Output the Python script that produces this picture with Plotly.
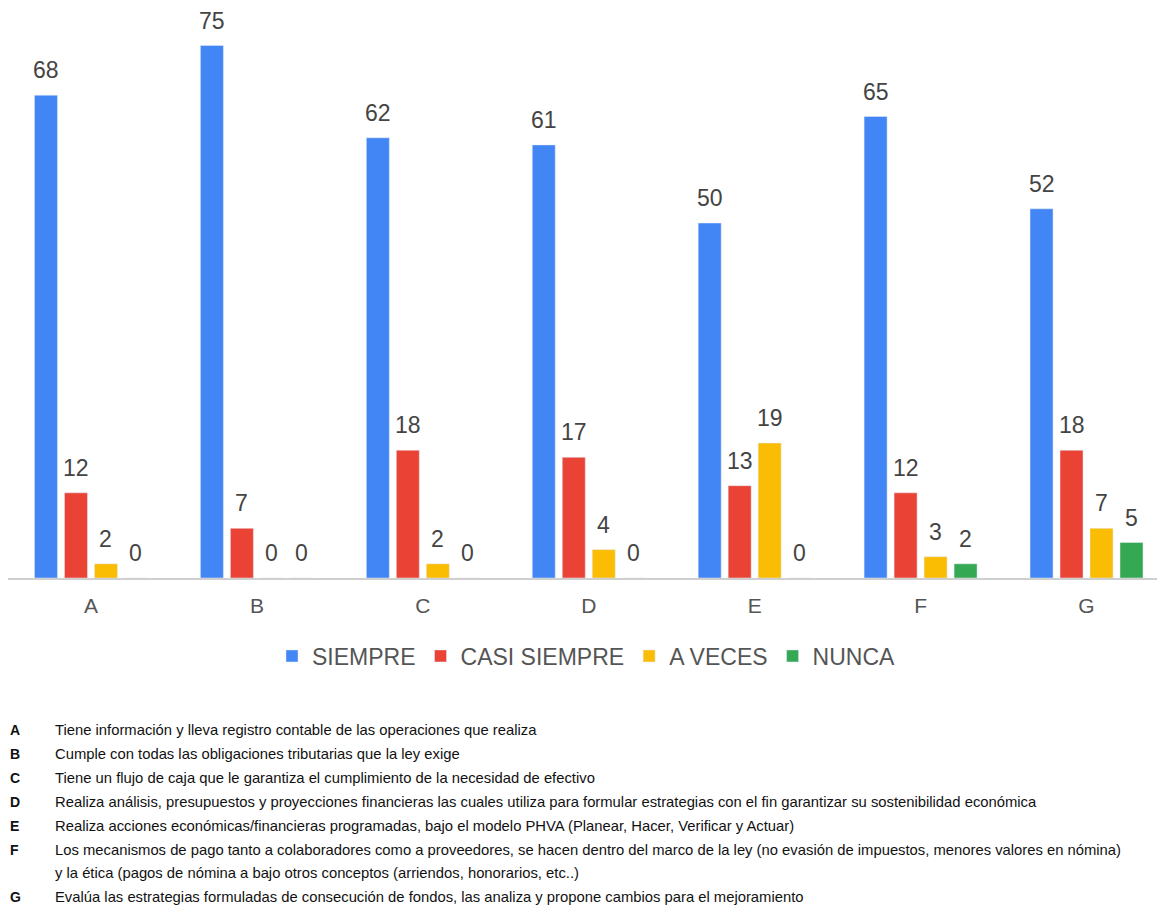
import plotly.graph_objects as go

categories = ["A", "B", "C", "D", "E", "F", "G"]
siempre = [68, 75, 62, 61, 50, 65, 52]
casi_siempre = [12, 7, 18, 17, 13, 12, 18]
a_veces = [2, 0, 2, 4, 19, 3, 7]
nunca = [0, 0, 0, 0, 0, 2, 5]

series_names = ["SIEMPRE", "CASI SIEMPRE", "A VECES", "NUNCA"]
series_values = [siempre, casi_siempre, a_veces, nunca]
colors = ["#4285F4", "#EA4335", "#FBBC04", "#34A853"]

notes_letters = ["A", "B", "C", "D", "E", "F", "", "G"]
notes_text = [
    "Tiene información y lleva registro contable de las operaciones que realiza",
    "Cumple con todas las obligaciones tributarias que la ley exige",
    "Tiene un flujo de caja que le garantiza el cumplimiento de la necesidad de efectivo",
    "Realiza análisis, presupuestos y proyecciones financieras las cuales utiliza para formular estrategias con el fin garantizar su sostenibilidad económica",
    "Realiza acciones económicas/financieras programadas, bajo el modelo PHVA (Planear, Hacer, Verificar y Actuar)",
    "Los mecanismos de pago tanto a colaboradores como a proveedores, se hacen dentro del marco de la ley (no evasión de impuestos, menores valores en nómina)",
    "y la ética (pagos de nómina a bajo otros conceptos (arriendos, honorarios, etc..)",
    "Evalúa las estrategias formuladas de consecución de fondos, las analiza y propone cambios para el mejoramiento",
]

# page body has an 8px margin, so the figure starts at (8, 8)
W, H = 1157, 898
ml, mr, mt, mb = 0, 0, 2, 328
plot_h = H - mt - mb
plot_w = W - ml - mr

fig = go.Figure()
annotations = []
n_series = len(series_names)
for i, (name, vals, col) in enumerate(zip(series_names, series_values, colors)):
    fig.add_trace(go.Bar(
        x=categories, y=vals, name=name, marker_color=col,
        cliponaxis=False,
    ))
    for cat, v in zip(categories, vals):
        annotations.append(dict(
            x=cat, y=v, xref="x", yref="y", text=str(v), showarrow=False,
            xshift=(i - (n_series - 1) / 2) * 30, yshift=25, yanchor="middle",
            font=dict(size=23, color="#444444", family="Arial, Liberation Sans"),
        ))

y0 = 730 - 8
for i, (letter, txt) in enumerate(zip(notes_letters, notes_text)):
    ypix = y0 + i * 23.9
    yp = (H - mb - ypix) / plot_h
    if letter:
        annotations.append(dict(
            text="<b>" + letter + "</b>", xref="paper", yref="paper",
            x=0.0, y=yp, xanchor="left", yanchor="middle",
            showarrow=False, font=dict(size=14, color="#111111", family="Liberation Sans, Arial"),
        ))
    annotations.append(dict(
        text=txt, xref="paper", yref="paper",
        x=(53 - 8 - ml) / plot_w, y=yp, xanchor="left", yanchor="middle",
        showarrow=False, font=dict(size=14.8, color="#111111", family="Liberation Sans, Arial"),
    ))

fig.update_layout(
    width=W, height=H,
    margin=dict(l=ml, r=mr, t=mt, b=mb, autoexpand=False),
    paper_bgcolor="white", plot_bgcolor="white",
    barmode="group", bargap=0.277, bargroupgap=0.233,
    font=dict(family="Arial, Liberation Sans", color="#555555"),
    xaxis=dict(showline=True, linecolor="#cfcfcf", linewidth=1.5, ticks="",
               range=[-0.5, 6.473], ticklabelstandoff=8,
               tickfont=dict(size=21, color="#555555"), showgrid=False),
    yaxis=dict(range=[0, 80], visible=False, showgrid=False, zeroline=False),
    legend=dict(orientation="h", x=0.5, xanchor="center",
                y=(H - mb - (656 - 8)) / plot_h, yanchor="middle",
                font=dict(size=23, color="#555555"), itemwidth=30,
                traceorder="normal"),
    annotations=annotations,
    showlegend=True,
)

fig.write_html("out.html")
